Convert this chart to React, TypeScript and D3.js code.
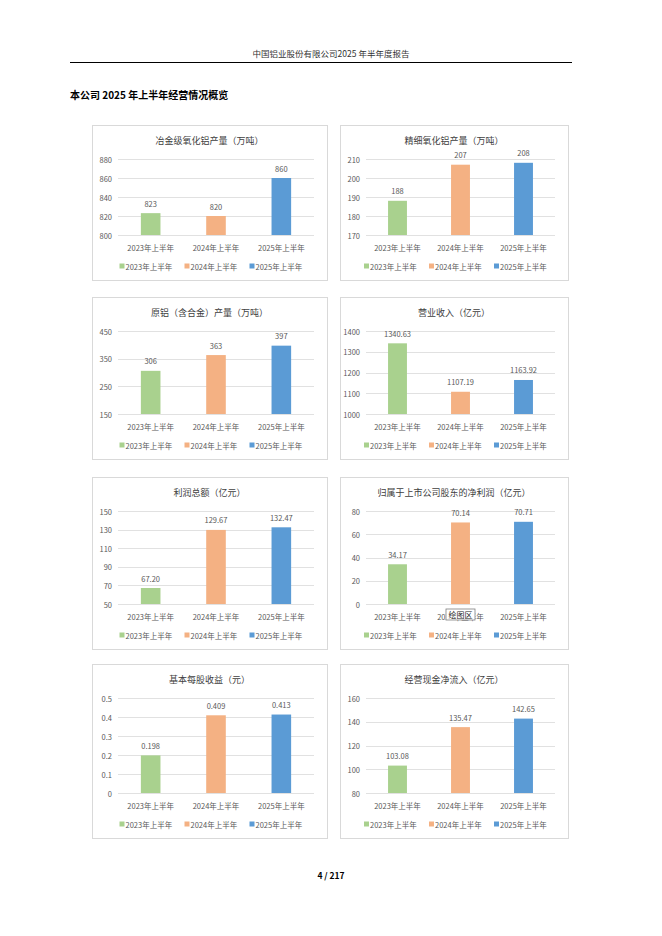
import React from 'react';
import * as d3 from 'd3';

const categories = ['2023年上半年', '2024年上半年', '2025年上半年'];
const seriesColors = ['#A9D18E', '#F4B183', '#5B9BD5'];

const titleAluminaMet = '冶金级氧化铝产量（万吨）';
const valuesAluminaMet = [823, 820, 860];
const labelsAluminaMet = ['823', '820', '860'];
const ticksAluminaMet = [800, 820, 840, 860, 880];

const titleAluminaFine = '精细氧化铝产量（万吨）';
const valuesAluminaFine = [188, 207, 208];
const labelsAluminaFine = ['188', '207', '208'];
const ticksAluminaFine = [170, 180, 190, 200, 210];

const titlePrimary = '原铝（含合金）产量（万吨）';
const valuesPrimary = [306, 363, 397];
const labelsPrimary = ['306', '363', '397'];
const ticksPrimary = [150, 250, 350, 450];

const titleRevenue = '营业收入（亿元）';
const valuesRevenue = [1340.63, 1107.19, 1163.92];
const labelsRevenue = ['1340.63', '1107.19', '1163.92'];
const ticksRevenue = [1000, 1100, 1200, 1300, 1400];

const titleProfit = '利润总额（亿元）';
const valuesProfit = [67.2, 129.67, 132.47];
const labelsProfit = ['67.20', '129.67', '132.47'];
const ticksProfit = [50, 70, 90, 110, 130, 150];

const titleNet = '归属于上市公司股东的净利润（亿元）';
const valuesNet = [34.17, 70.14, 70.71];
const labelsNet = ['34.17', '70.14', '70.71'];
const ticksNet = [0, 20, 40, 60, 80];

const titleEps = '基本每股收益（元）';
const valuesEps = [0.198, 0.409, 0.413];
const labelsEps = ['0.198', '0.409', '0.413'];
const ticksEps = [0, 0.1, 0.2, 0.3, 0.4, 0.5];

const titleCash = '经营现金净流入（亿元）';
const valuesCash = [103.08, 135.47, 142.65];
const labelsCash = ['103.08', '135.47', '142.65'];
const ticksCash = [80, 100, 120, 140, 160];

const FONT = "'Noto Sans CJK SC', 'Noto Sans', sans-serif";
const TEXT = '#595959';
const GRID = '#D9D9D9';

type PanelProps = {
  x: number; y: number; w: number; h: number;
  title: string; values: number[]; labels: string[]; ticks: number[];
  tooltip?: boolean;
};

function Panel({ x, y, w, h, title, values, labels, ticks, tooltip }: PanelProps) {
  const plotL = x + 26;
  const plotR = x + w - 13;
  const plotT = y + 34;
  const plotB = y + h - 45;
  const yS = d3.scaleLinear().domain([ticks[0], ticks[ticks.length - 1]]).range([plotB, plotT]);
  const xS = d3.scaleBand<string>().domain(categories).range([plotL, plotR]).paddingInner(0.7).paddingOuter(0.35);
  const legendStart = x + w / 2 - 90;
  return (
    <g>
      <rect x={x + 0.5} y={y + 0.5} width={w} height={h} fill="#fff" stroke={GRID} strokeWidth={1} />
      <text x={x + w / 2} y={y + 15} textAnchor="middle" dominantBaseline="central" fontSize={9} fill="#404040" fontFamily={FONT}>{title}</text>
      {ticks.map((t) => (
        <g key={t}>
          <line x1={plotL} x2={plotR} y1={Math.round(yS(t)) + 0.5} y2={Math.round(yS(t)) + 0.5} stroke={GRID} strokeWidth={0.8} />
          <text x={plotL - 6} y={yS(t)} textAnchor="end" dominantBaseline="central" fontSize={7.5} fill={TEXT} fontFamily={FONT}>{String(t)}</text>
        </g>
      ))}
      {categories.map((c, i) => {
        const top = yS(values[i]);
        const bx = xS(c) as number;
        const cx = bx + xS.bandwidth() / 2;
        return (
          <g key={c}>
            <rect x={bx} y={top} width={xS.bandwidth()} height={plotB - top} fill={seriesColors[i]} />
            <text x={cx} y={top - 10} textAnchor="middle" dominantBaseline="central" fontSize={7.5} fill={TEXT} fontFamily={FONT}>{labels[i]}</text>
            <text x={cx} y={plotB + 12} textAnchor="middle" dominantBaseline="central" fontSize={7.5} fill={TEXT} fontFamily={FONT}>{c}</text>
          </g>
        );
      })}
      {categories.map((c, i) => (
        <g key={'lg' + c}>
          <rect x={legendStart + i * 65} y={plotB + 31 - 2.5} width={5} height={5} fill={seriesColors[i]} />
          <text x={legendStart + i * 65 + 6} y={plotB + 31} dominantBaseline="central" fontSize={7.5} fill={TEXT} fontFamily={FONT}>{c}</text>
        </g>
      ))}
      {tooltip && (
        <g>
          <rect x={(xS(categories[1]) as number) + xS.bandwidth() / 2 - 14.5} y={plotB + 5} width={29} height={11} fill="#fff" stroke="#7F7F7F" strokeWidth={0.8} />
          <text x={(xS(categories[1]) as number) + xS.bandwidth() / 2} y={plotB + 10.5} textAnchor="middle" dominantBaseline="central" fontSize={8} fill="#262626" fontFamily={FONT}>绘图区</text>
        </g>
      )}
    </g>
  );
}

export default function App() {
  const leftX = 92, leftW = 235;
  const rightX = 340, rightW = 228;
  const rows = [
    { y: 125, h: 155 },
    { y: 297, h: 162 },
    { y: 477, h: 172 },
    { y: 664, h: 174 },
  ];
  return (
    <svg width={662} height={936} style={{ position: 'absolute', left: 0, top: 0, background: '#fff' }}>
      <rect x={0} y={0} width={662} height={936} fill="#fff" />
      <text x={331} y={53} textAnchor="middle" dominantBaseline="central" fontSize={8.5} fill="#333" fontFamily={FONT}>中国铝业股份有限公司2025 年半年度报告</text>
      <line x1={70} x2={572} y1={62.5} y2={62.5} stroke="#000" strokeWidth={1} />
      <text x={70} y={94} dominantBaseline="central" fontSize={10} fontWeight="bold" fill="#000" fontFamily={FONT}>本公司 2025 年上半年经营情况概览</text>

      <Panel x={leftX} y={rows[0].y} w={leftW} h={rows[0].h} title={titleAluminaMet} values={valuesAluminaMet} labels={labelsAluminaMet} ticks={ticksAluminaMet} />
      <Panel x={rightX} y={rows[0].y} w={rightW} h={rows[0].h} title={titleAluminaFine} values={valuesAluminaFine} labels={labelsAluminaFine} ticks={ticksAluminaFine} />
      <Panel x={leftX} y={rows[1].y} w={leftW} h={rows[1].h} title={titlePrimary} values={valuesPrimary} labels={labelsPrimary} ticks={ticksPrimary} />
      <Panel x={rightX} y={rows[1].y} w={rightW} h={rows[1].h} title={titleRevenue} values={valuesRevenue} labels={labelsRevenue} ticks={ticksRevenue} />
      <Panel x={leftX} y={rows[2].y} w={leftW} h={rows[2].h} title={titleProfit} values={valuesProfit} labels={labelsProfit} ticks={ticksProfit} />
      <Panel x={rightX} y={rows[2].y} w={rightW} h={rows[2].h} title={titleNet} values={valuesNet} labels={labelsNet} ticks={ticksNet} tooltip />
      <Panel x={leftX} y={rows[3].y} w={leftW} h={rows[3].h} title={titleEps} values={valuesEps} labels={labelsEps} ticks={ticksEps} />
      <Panel x={rightX} y={rows[3].y} w={rightW} h={rows[3].h} title={titleCash} values={valuesCash} labels={labelsCash} ticks={ticksCash} />

      <text x={331} y={875} textAnchor="middle" dominantBaseline="central" fontSize={8.5} fontWeight="bold" fill="#000" fontFamily={FONT}>4 / 217</text>
    </svg>
  );
}
